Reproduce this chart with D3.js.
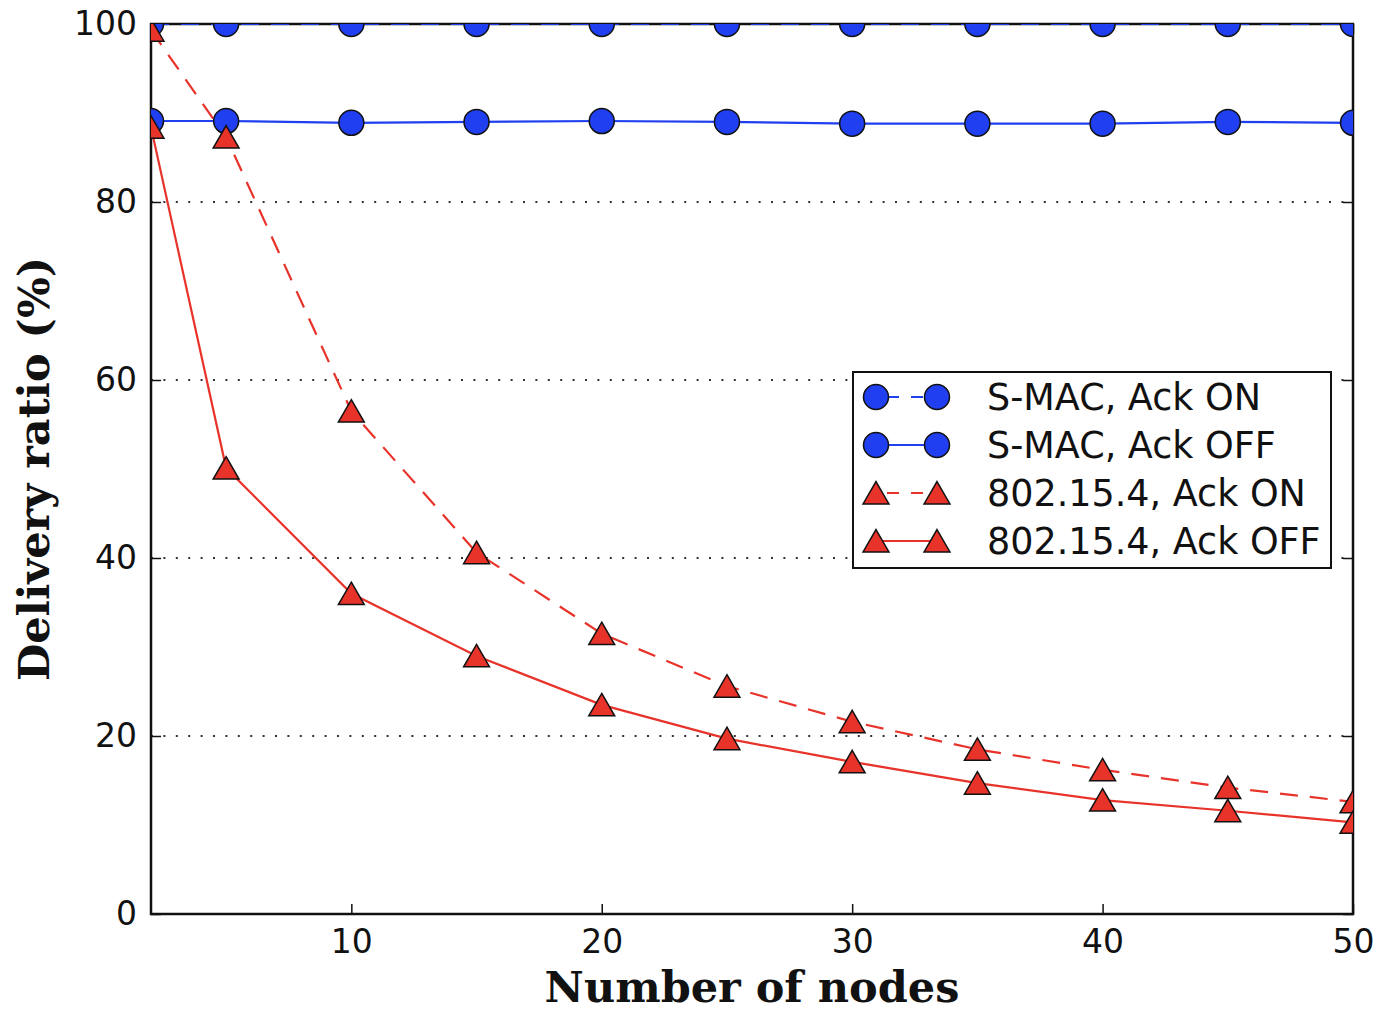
<!DOCTYPE html>
<html>
<head>
<meta charset="utf-8">
<script src="https://cdn.jsdelivr.net/npm/d3@7"></script>
<style>
  body { margin: 0; background: white; }
</style>
</head>
<body>
<div id="chart"></div>
<script>
// number of nodes
let nodes = [2, 5, 10, 15, 20, 25, 30, 35, 40, 45, 50];

// delivery ratio (%) per series
let smacAckOn = [100, 100, 100, 100, 100, 100, 100, 100, 100, 100, 100];
let smacAckOff = [89.1, 89.1, 88.9, 89.0, 89.1, 89.0, 88.8, 88.8, 88.8, 89.0, 88.9];
let ieeeAckOn = [99.3, 87.3, 56.5, 40.6, 31.5, 25.6, 21.6, 18.5, 16.2, 14.2, 12.6];
let ieeeAckOff = [88.4, 50.1, 36.0, 29.0, 23.5, 19.7, 17.1, 14.7, 12.8, 11.6, 10.3];

let seriesNames = ['S-MAC, Ack ON', 'S-MAC, Ack OFF', '802.15.4, Ack ON', '802.15.4, Ack OFF'];
let xTicks = [10, 20, 30, 40, 50];
let yTicks = [0, 20, 40, 60, 80, 100];

let series = [
	{ name: seriesNames[0], values: smacAckOn, color: '#1f3ff0', marker: 'circle', dash: '18,12' },
	{ name: seriesNames[1], values: smacAckOff, color: '#1f3ff0', marker: 'circle', dash: null },
	{ name: seriesNames[2], values: ieeeAckOn, color: '#e8332a', marker: 'triangle', dash: '18,12' },
	{ name: seriesNames[3], values: ieeeAckOff, color: '#e8332a', marker: 'triangle', dash: null }
];

let width = 1379,
	height = 1011,
	margin = { top: 24, right: 26, bottom: 97, left: 151 };

let svg = d3.select('#chart')
	.append('svg')
		.attr('width', width)
		.attr('height', height)
		.style('background', 'white');

let innerW = width - margin.left - margin.right,
	innerH = height - margin.top - margin.bottom;

let g = svg.append('g')
	.attr('transform', 'translate(' + margin.left + ',' + margin.top + ')');

let xScale = d3.scaleLinear().domain([2, 50]).range([0, innerW]);
let yScale = d3.scaleLinear().domain([0, 100]).range([innerH, 0]);

// clip so markers at the edges get cut like matplotlib
svg.append('defs').append('clipPath')
	.attr('id', 'plotclip')
	.append('rect')
		.attr('width', innerW)
		.attr('height', innerH);

// dotted horizontal grid
g.append('g')
	.selectAll('line')
	.data(yTicks.filter(d => d > 0 && d < 100))
	.enter()
	.append('line')
		.attr('x1', 0)
		.attr('x2', innerW)
		.attr('y1', d => yScale(d))
		.attr('y2', d => yScale(d))
		.attr('stroke', '#333')
		.attr('stroke-width', 1.8)
		.attr('stroke-dasharray', '2,10.4');

// axes, ticks pointing inward
let fontTick = '"DejaVu Sans", sans-serif';

let xAxis = g.append('g')
	.attr('transform', 'translate(0,' + innerH + ')')
	.call(d3.axisBottom(xScale).tickValues(xTicks).tickSizeInner(-10).tickSizeOuter(0).tickPadding(16));
let xAxisTop = g.append('g')
	.call(d3.axisTop(xScale).tickValues(xTicks).tickSizeInner(-10).tickSizeOuter(0).tickFormat(''));
let yAxis = g.append('g')
	.call(d3.axisLeft(yScale).tickValues(yTicks).tickSizeInner(-10).tickSizeOuter(0).tickPadding(14));
let yAxisRight = g.append('g')
	.attr('transform', 'translate(' + innerW + ',0)')
	.call(d3.axisRight(yScale).tickValues(yTicks).tickSizeInner(-10).tickSizeOuter(0).tickFormat(''));

[xAxis, xAxisTop, yAxis, yAxisRight].forEach(a => {
	a.select('.domain').remove();
	a.selectAll('.tick line').attr('stroke', '#111').attr('stroke-width', 1.5);
	a.selectAll('.tick text')
		.style('font-family', fontTick)
		.style('font-size', '33px')
		.attr('fill', '#111');
});

// frame
g.append('rect')
	.attr('width', innerW)
	.attr('height', innerH)
	.attr('fill', 'none')
	.attr('stroke', '#111')
	.attr('stroke-width', 2.5);

// lines and markers
let plot = g.append('g').attr('clip-path', 'url(#plotclip)');

let line = d3.line()
	.x((d, i) => xScale(nodes[i]))
	.y(d => yScale(d));

let triangle = d3.symbol().type(d3.symbolTriangle).size(290);

function drawMarker(sel, s) {
	if (s.marker === 'circle') {
		sel.append('circle')
			.attr('r', 12.5)
			.attr('fill', s.color)
			.attr('stroke', '#111')
			.attr('stroke-width', 1.5);
	} else {
		sel.append('path')
			.attr('d', triangle())
			.attr('transform', 'translate(0,3.5)')
			.attr('fill', s.color)
			.attr('stroke', '#111')
			.attr('stroke-width', 1.5);
	}
}

series.forEach(s => {
	plot.append('path')
		.datum(s.values)
		.attr('d', line)
		.attr('fill', 'none')
		.attr('stroke', s.color)
		.attr('stroke-width', 2.2)
		.attr('stroke-dasharray', s.dash);
});

series.forEach(s => {
	plot.append('g')
		.selectAll('g')
		.data(s.values)
		.enter()
		.append('g')
			.attr('transform', (d, i) => 'translate(' + xScale(nodes[i]) + ',' + yScale(d) + ')')
			.each(function() { drawMarker(d3.select(this), s); });
});

// axis titles
let fontTitle = '"DejaVu Serif", serif';

svg.append('text')
	.attr('x', margin.left + innerW / 2)
	.attr('y', 1002)
	.attr('text-anchor', 'middle')
	.style('font-family', fontTitle)
	.style('font-weight', 'bold')
	.style('font-size', '43px')
	.attr('fill', '#111')
	.text('Number of nodes');

svg.append('text')
	.attr('transform', 'translate(49,' + (margin.top + innerH / 2) + ') rotate(-90)')
	.attr('text-anchor', 'middle')
	.style('font-family', fontTitle)
	.style('font-weight', 'bold')
	.style('font-size', '43px')
	.attr('fill', '#111')
	.text('Delivery ratio (%)');

// legend
let legend = svg.append('g').attr('transform', 'translate(853,372)');

legend.append('rect')
	.attr('width', 478)
	.attr('height', 196)
	.attr('fill', 'white')
	.attr('stroke', '#111')
	.attr('stroke-width', 2);

series.forEach((s, i) => {
	let row = legend.append('g').attr('transform', 'translate(0,' + (25 + i * 48) + ')');
	row.append('line')
		.attr('x1', 23)
		.attr('x2', 84)
		.attr('stroke', s.color)
		.attr('stroke-width', 2.2)
		.attr('stroke-dasharray', s.dash ? '12,12' : null)
		.attr('stroke-dashoffset', s.dash ? -11 : null);
	[23, 84].forEach(x => {
		let m = row.append('g').attr('transform', 'translate(' + x + ',0)');
		drawMarker(m, s);
	});
	row.append('text')
		.attr('x', 134)
		.attr('y', 0)
		.attr('dy', '0.35em')
		.style('font-family', fontTick)
		.style('font-size', '36.5px')
		.attr('fill', '#111')
		.text(s.name);
});
</script>
</body>
</html>
